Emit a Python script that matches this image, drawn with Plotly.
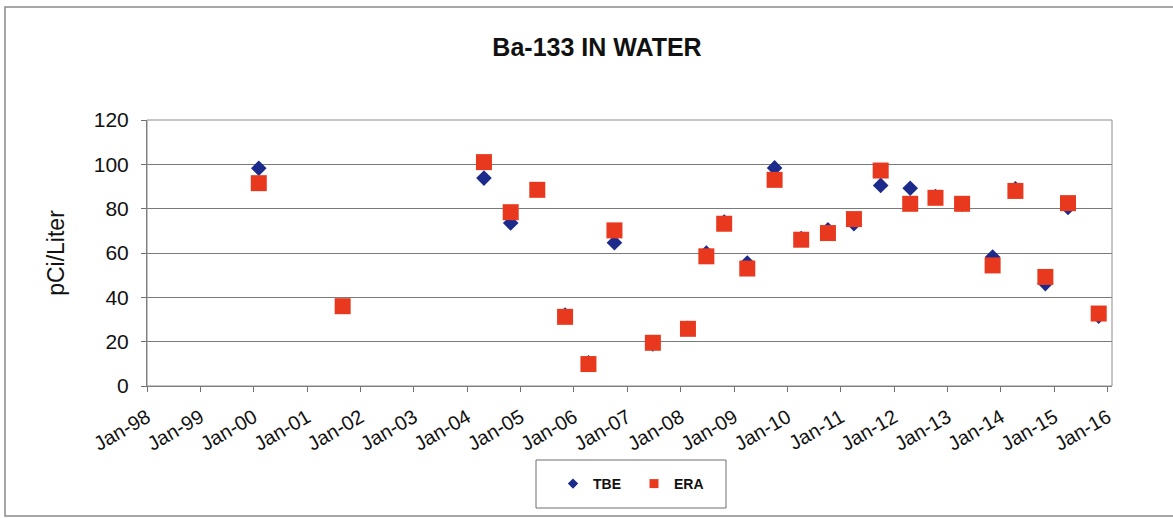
import plotly.graph_objects as go

# Sample dates and measured Ba-133 activity (pCi/Liter)
tbe_dates = ["2000-02-05", "2001-09-01", "2004-04-25", "2004-10-25", "2005-04-25",
             "2005-11-01", "2006-04-10", "2006-10-05", "2007-06-25", "2008-02-20",
             "2008-06-25", "2008-10-25", "2009-04-01", "2009-10-05", "2010-04-05",
             "2010-10-05", "2011-04-01", "2011-10-01", "2012-04-20", "2012-10-10",
             "2013-04-10", "2013-11-05", "2014-04-10", "2014-11-01", "2015-04-05",
             "2015-11-01"]
tbe_values = [98.2, 36.0, 93.8, 73.5, 88.5, 32.0, 10.5, 64.6, 19.0, 26.0,
              60.0, 74.0, 55.5, 98.4, 66.5, 70.5, 73.2, 90.5, 89.2, 85.5,
              82.0, 58.2, 89.0, 46.2, 80.5, 31.5]

era_dates = tbe_dates
era_values = [91.5, 36.0, 101.0, 78.4, 88.5, 31.2, 9.9, 70.2, 19.5, 25.8,
              58.5, 73.2, 53.0, 93.0, 66.0, 69.0, 75.3, 97.2, 82.2, 84.9,
              82.2, 54.4, 88.0, 49.2, 82.5, 32.7]

tick_years = list(range(1998, 2017))
tick_vals = [f"{y}-01-01" for y in tick_years]
tick_text = [f"Jan-{y % 100:02d}" for y in tick_years]

TBE_COLOR = "#1C2A8C"
ERA_COLOR = "#E8391E"
FONT = "Liberation Sans, Arial, sans-serif"

fig = go.Figure()

fig.add_trace(go.Scatter(
    x=tbe_dates, y=tbe_values, mode="markers", name="TBE", showlegend=False,
    marker=dict(symbol="diamond", size=12, color=TBE_COLOR),
))
fig.add_trace(go.Scatter(
    x=era_dates, y=era_values, mode="markers", name="ERA", showlegend=False,
    marker=dict(symbol="square", size=16, color=ERA_COLOR),
))

# Legend entries with small symbols
fig.add_trace(go.Scatter(
    x=[None], y=[None], mode="markers", name="<b>TBE</b>",
    marker=dict(symbol="diamond", size=8, color=TBE_COLOR),
))
fig.add_trace(go.Scatter(
    x=[None], y=[None], mode="markers", name="<b>ERA</b>",
    marker=dict(symbol="square", size=9, color=ERA_COLOR),
))

# Plot area spans pixels x 147..1112, y 120..386
L, R, T, B = 147, 1112, 120, 386
W, H = 1173, 518
pw, ph = R - L, B - T


def px(x):
    return (x - L) / pw


def py(y):
    return (B - y) / ph


shapes = [
    # outer chart frame
    dict(type="rect", xref="paper", yref="paper",
         x0=px(5), x1=px(1178), y0=py(516), y1=py(7),
         line=dict(color="#8A8A8A", width=1.5), fillcolor="rgba(0,0,0,0)"),
    # legend frame
    dict(type="rect", xref="paper", yref="paper",
         x0=px(536), x1=px(726), y0=py(508), y1=py(460),
         line=dict(color="#6E6E6E", width=1), fillcolor="white"),
    # plot-area border
    dict(type="rect", xref="paper", yref="paper",
         x0=0, x1=1, y0=0, y1=1,
         line=dict(color="#8C8C8C", width=1), fillcolor="rgba(0,0,0,0)"),
]

fig.update_layout(
    width=W, height=H,
    margin=dict(l=L, r=W - R, t=T, b=H - B),
    paper_bgcolor="white", plot_bgcolor="white",
    font=dict(family=FONT, color="#111111"),
    title=dict(text="<b>Ba-133 IN WATER</b>", xref="container", x=597 / W,
               xanchor="center", y=1 - 47 / H, yanchor="middle",
               font=dict(size=25, family=FONT, color="#111111")),
    shapes=shapes,
    showlegend=True,
    legend=dict(orientation="h", x=px(634), xanchor="center",
                y=py(484), yanchor="middle",
                bgcolor="rgba(0,0,0,0)", borderwidth=0,
                font=dict(size=14, family=FONT, color="#111111"),
                itemwidth=30, entrywidth=36, tracegroupgap=0),
    xaxis=dict(
        type="date", range=["1998-01-01", "2016-01-31"],
        tickmode="array", tickvals=tick_vals, ticktext=tick_text,
        tickangle=-30, tickfont=dict(size=20, family=FONT, color="#111111"),
        ticks="outside", ticklen=5, tickcolor="#707070",
        ticklabelstandoff=6,
        showgrid=False, zeroline=False, showline=True,
        linecolor="#707070", linewidth=1,
    ),
    yaxis=dict(
        range=[0, 120], tickvals=[0, 20, 40, 60, 80, 100, 120],
        tickfont=dict(size=21, family=FONT, color="#111111"),
        ticks="outside", ticklen=5, tickcolor="#707070",
        ticklabelstandoff=8,
        showgrid=True, gridcolor="#7A7A7A", gridwidth=1,
        zeroline=False, showline=True, linecolor="#707070", linewidth=1,
        title=dict(text="pCi/Liter", font=dict(size=23, family=FONT, color="#111111"),
                   standoff=22),
    ),
)

fig.write_html("out.html")
